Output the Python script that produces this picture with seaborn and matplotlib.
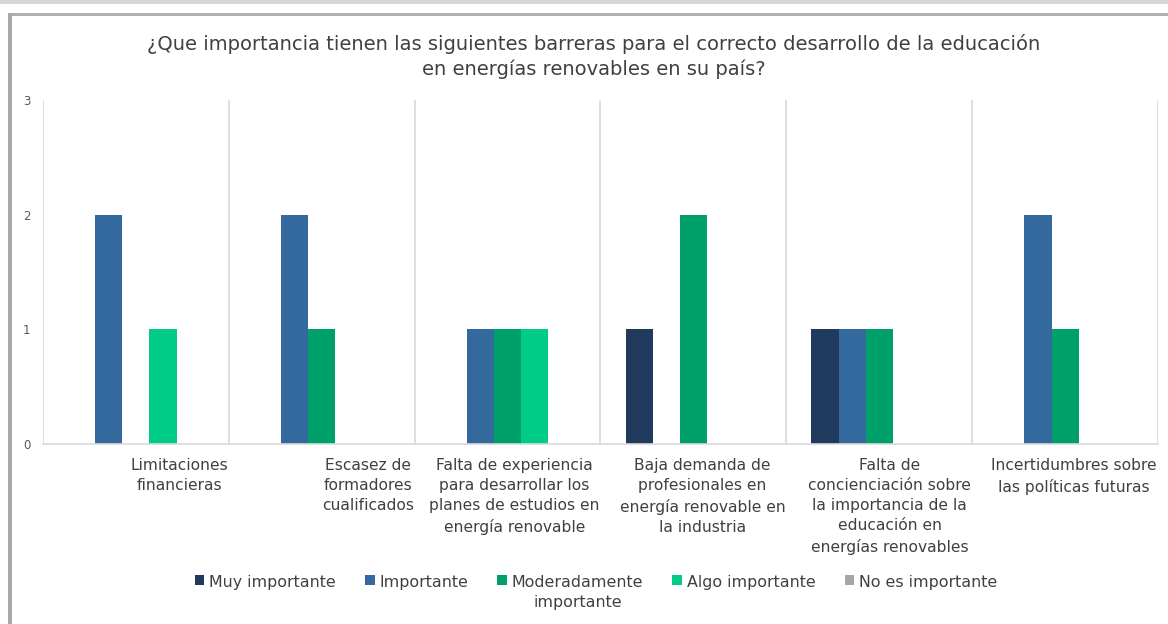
import matplotlib
matplotlib.use("Agg")
import matplotlib.pyplot as plt
from matplotlib.patches import Rectangle, Patch
import seaborn as sns
import pandas as pd

# Survey results: number of answers per barrier and importance level
categories = [
    "Limitaciones\nfinancieras",
    "Escasez de\nformadores\ncualificados",
    "Falta de experiencia\npara desarrollar los\nplanes de estudios en\nenergía renovable",
    "Baja demanda de\nprofesionales en\nenergía renovable en\nla industria",
    "Falta de\nconcienciación sobre\nla importancia de la\neducación en\nenergías renovables",
    "Incertidumbres sobre\nlas políticas futuras",
]
levels = ["Muy importante", "Importante", "Moderadamente\nimportante",
          "Algo importante", "No es importante"]
muy_importante = [0, 0, 0, 1, 1, 0]
importante = [2, 2, 1, 0, 1, 2]
moderadamente = [0, 1, 1, 2, 1, 1]
algo_importante = [1, 0, 1, 0, 0, 0]
no_importante = [0, 0, 0, 0, 0, 0]
y_ticks = [0, 1, 2, 3]
title = ("¿Que importancia tienen las siguientes barreras para el correcto desarrollo de la educación\n"
         "en energías renovables en su país?")

colors = ["#1f3a5c", "#33699d", "#00a06a", "#00cc88", "#a6a6a6"]

series = [muy_importante, importante, moderadamente, algo_importante, no_importante]
rows = []
for lvl, vals in zip(levels, series):
    for cat, v in zip(categories, vals):
        rows.append({"cat": cat, "nivel": lvl, "n": v})
df = pd.DataFrame(rows)

sns.set_theme(style="white")
plt.rcParams["font.family"] = ["DejaVu Sans"]

W, H = 1168, 624
fig = plt.figure(figsize=(W / 100, H / 100), dpi=100)
fig.patch.set_facecolor("white")

# page frame around the chart
fig.add_artist(Rectangle((0, 1 - 4 / H), 1, 4 / H, transform=fig.transFigure,
                         facecolor="#d6d6d6", edgecolor="none"))
fig.add_artist(Rectangle((8 / W, 1 - 16 / H), 1 - 8 / W, 3 / H, transform=fig.transFigure,
                         facecolor="#b0b0b0", edgecolor="none"))
fig.add_artist(Rectangle((8 / W, 0), 4 / W, 1 - 13 / H, transform=fig.transFigure,
                         facecolor="#a8a8a8", edgecolor="none"))

ax = fig.add_axes([43 / W, 1 - 444 / H, (1158 - 43) / W, (444 - 100) / H])
sns.barplot(data=df, x="cat", y="n", hue="nivel", order=categories, hue_order=levels,
            palette=colors, width=0.73, gap=0, linewidth=0, saturation=1,
            ax=ax, legend=False)

ax.set_ylim(0, 3)
ax.set_xlim(-0.5, len(categories) - 0.5)
ax.set_yticks(y_ticks)
ax.set_yticklabels([str(t) for t in y_ticks], color="#595959", fontsize=8.5)
ax.tick_params(axis="y", length=0, pad=9)
ax.set_xticks([])
ax.set_xlabel("")
ax.set_ylabel("")
for s in ["top", "right", "left"]:
    ax.spines[s].set_visible(False)
ax.spines["bottom"].set_color("#d9d9d9")
ax.spines["bottom"].set_linewidth(1.2)

# vertical separators between categories
for b in range(len(categories) + 1):
    ax.axvline(b - 0.5, color="#d9d9d9", linewidth=1.2, zorder=0)

# category labels, block right-aligned to each separator, lines centred
for i, cat in enumerate(categories):
    ax.text(i + 0.5 - 0.005, -0.041, cat, transform=ax.get_xaxis_transform(),
            ha="right", va="top", multialignment="center", fontsize=11.2,
            color="#404040", linespacing=1.42)

fig.text(594 / W, 1 - 34 / H, title, ha="center", va="top", fontsize=14,
         color="#404040", linespacing=1.38)

handles = [Patch(facecolor=c, edgecolor="none") for c in colors]
leg = fig.legend(handles, levels, loc="upper center", bbox_to_anchor=(596 / W, 1 - 569 / H),
                 ncol=5, frameon=False, fontsize=11.4, handlelength=0.6, handleheight=0.6,
                 handletextpad=0.3, columnspacing=1.85, borderaxespad=0)
for t in leg.get_texts():
    t.set_color("#404040")
    t.set_multialignment("center")
    t.set_linespacing(1.35)
# keep the first line of each legend entry on one row
hbox = leg._legend_handle_box
hbox.align = "top"
for col in hbox.get_children():
    for item in col.get_children():
        item.align = "top"

fig.savefig("out.png", dpi=100, facecolor="white")
